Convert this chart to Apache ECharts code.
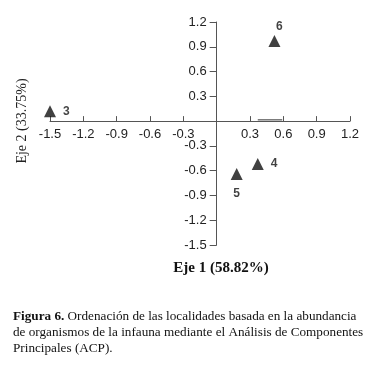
<!DOCTYPE html>
<html><head><meta charset="utf-8">
<script src="https://cdn.jsdelivr.net/npm/echarts@6/dist/echarts.min.js"></script>
<style>html,body{margin:0;padding:0;background:#fff}#c{width:375px;height:370px}</style>
</head><body><div id="c"></div>
<script>
var siteNames = ['3', '4', '5', '6'];
var eje1 = [-1.5, 0.37, 0.18, 0.52];
var eje2 = [0.12, -0.52, -0.64, 0.97];
var segmentX = [0.37, 0.59];
var segmentY = [0.015, 0.015];
var tickMin = -1.5, tickMax = 1.2, tickStep = 0.3;
var xTitle = 'Eje 1 (58.82%)';
var yTitle = 'Eje 2 (33.75%)';
var captionLines = [
  ['Figura 6.', ' Ordenación de las localidades basada en la abundancia'],
  ['', 'de organismos de la infauna mediante el Análisis de Componentes'],
  ['', 'Principales (ACP).']
];

var G = {left: 50, right: 25, top: 22, bottom: 125, W: 375, H: 370};
var gw = G.W - G.left - G.right, gh = G.H - G.top - G.bottom;
var xOff = -(gw * (0 - tickMin) / (tickMax - tickMin));
var yOff = -(gh * (0 - tickMin) / (tickMax - tickMin));

var labelOffsets = {'3': [2, 0, 'right'], '4': [2, 0, 'right'], '5': [0, 3, 'bottom'], '6': [5, 3, 'top']};
var data = siteNames.map(function (n, i) {
  var o = labelOffsets[n];
  return {name: n, value: [eje1[i], eje2[i]], label: {position: o[2], offset: [o[0], o[1]]}};
});
function fmt(v) { return Math.abs(v) < 1e-9 ? '' : (Math.round(v * 10) / 10).toFixed(1); }
var lbl = {formatter: fmt, color: '#222', fontFamily: 'Liberation Sans, Arial', fontSize: 13};
var chart = echarts.init(document.getElementById('c'), null, {renderer: 'canvas'});
var graphics = [
  {type: 'text', x: 221, y: 268, style: {
    text: xTitle, font: 'bold 15px "Liberation Serif", serif', fill: '#111', align: 'center', verticalAlign: 'middle'
  }},
  {type: 'text', x: 22, y: 121, rotation: Math.PI / 2, style: {
    text: yTitle, font: '14px "Liberation Serif", serif', fill: '#222', align: 'center', verticalAlign: 'middle'
  }}
];
captionLines.forEach(function (l, i) {
  graphics.push({type: 'text', x: 13, y: 310 + i * 16, style: {
    text: (l[0] ? '{b|' + l[0] + '}' : '') + '{n|' + l[1] + '}',
    rich: {
      b: {font: 'bold 13.2px "Liberation Serif", serif', fill: '#111'},
      n: {font: '13.2px "Liberation Serif", serif', fill: '#111'}
    }
  }});
});
chart.setOption({
  animation: false,
  backgroundColor: '#fff',
  grid: {left: G.left, right: G.right, top: G.top, bottom: G.bottom, containLabel: false},
  xAxis: {
    type: 'value', min: tickMin, max: tickMax, interval: tickStep, position: 'bottom', offset: yOff,
    axisLine: {onZero: false, lineStyle: {color: '#555', width: 1}},
    axisTick: {show: true, inside: true, length: 5, lineStyle: {color: '#555'}},
    axisLabel: Object.assign({}, lbl, {margin: 7}),
    splitLine: {show: false}
  },
  yAxis: {
    type: 'value', min: tickMin, max: tickMax, interval: tickStep, position: 'left', offset: xOff,
    axisLine: {onZero: false, lineStyle: {color: '#555', width: 1}},
    axisTick: {show: true, length: 7, lineStyle: {color: '#555'}},
    axisLabel: Object.assign({}, lbl, {margin: 10}),
    splitLine: {show: false}
  },
  graphic: graphics,
  series: [{
    type: 'scatter', symbol: 'triangle', symbolSize: 12,
    itemStyle: {color: '#111'},
    label: {show: true, formatter: '{b}', color: '#111', fontWeight: 'bold', fontSize: 12, fontFamily: 'Liberation Sans, Arial'},
    data: data
  }, {
    type: 'line', symbol: 'none', silent: true,
    lineStyle: {color: '#333', width: 1},
    data: segmentX.map(function (x, i) { return [x, segmentY[i]]; })
  }]
});
</script></body></html>
